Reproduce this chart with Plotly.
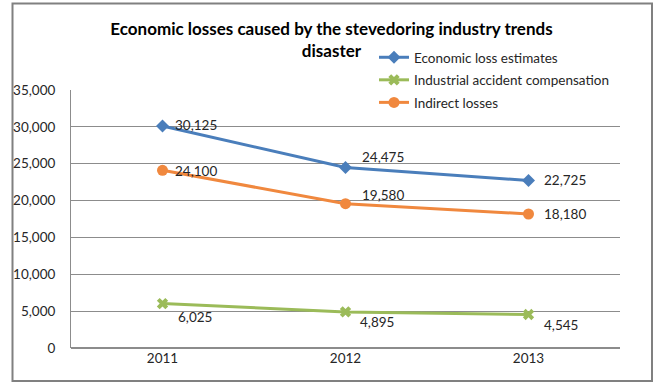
import plotly.graph_objects as go

years = [2011, 2012, 2013]
year_labels = ["2011", "2012", "2013"]
economic_loss = [30125, 24475, 22725]
industrial_comp = [6025, 4895, 4545]
indirect_losses = [24100, 19580, 18180]
series_names = ["Economic loss estimates", "Industrial accident compensation", "Indirect losses"]
y_ticks = [0, 5000, 10000, 15000, 20000, 25000, 30000, 35000]
title_text = "Economic losses caused by the stevedoring industry trends<br>disaster"

FONT = "Lato"
BLUE = "#4A7EBB"
GREEN = "#9BBB59"
ORANGE = "#F0883E"
TXT = "#262626"

W, H = 659, 384
L, R, T, B = 71, 39, 90, 36
pw, ph = W - L - R, H - T - B

def fmt(v):
    return f"{v:,}"

LBL = dict(family=FONT, size=13.5, color=TXT)

series = [
    dict(name=series_names[0], values=economic_loss, color=BLUE, symbol="diamond", size=10,
         shifts=[(10, 1), (14, 11), (13, 0)]),
    dict(name=series_names[1], values=industrial_comp, color=GREEN, symbol="x", size=10,
         shifts=[(13, -13), (12, -10), (13, -10)]),
    dict(name=series_names[2], values=indirect_losses, color=ORANGE, symbol="circle", size=11,
         shifts=[(10, -1), (14, 9), (13, 0)]),
]

fig = go.Figure()
annotations = []
for i, s in enumerate(series):
    fig.add_trace(go.Scatter(
        x=years, y=s["values"], name=s["name"], legendgroup=str(i),
        mode="lines+markers",
        line=dict(color=s["color"], width=3),
        marker=dict(symbol=s["symbol"], size=s["size"], color=s["color"]),
    ))
    for yr, v, (dx, dy) in zip(years, s["values"], s["shifts"]):
        annotations.append(dict(x=yr, y=v, xref="x", yref="y", text=fmt(v), showarrow=False,
                                xanchor="left", yanchor="middle", xshift=dx, yshift=dy,
                                font=dict(LBL)))

def px_x(p):
    return (p - L) / pw

def px_y(p):
    return (H - B - p) / ph

fig.update_layout(
    width=W, height=H,
    margin=dict(l=L, r=R, t=T, b=B),
    paper_bgcolor="white", plot_bgcolor="white",
    font=dict(family=FONT, size=13.5, color=TXT),
    title=dict(text=title_text, x=0.503, xanchor="center", y=1 - 34.5 / H, yanchor="top",
               font=dict(family=FONT, size=17, color="#000000", weight="bold")),
    showlegend=True,
    legend=dict(x=px_x(374), y=px_y(42), xanchor="left", yanchor="top",
                bgcolor="rgba(0,0,0,0)", font=dict(family=FONT, size=13.5, color=TXT),
                traceorder="grouped", tracegroupgap=2),
    annotations=annotations,
    xaxis=dict(range=[years[0] - 0.5, years[-1] + 0.5], tickvals=years, ticktext=year_labels,
               showgrid=False, zeroline=False, showline=False, ticks="",
               tickfont=dict(family=FONT, size=13.5, color=TXT)),
    yaxis=dict(range=[0, 35000], tickvals=y_ticks, tickformat=",", showgrid=True,
               gridcolor="#8C8C8C", gridwidth=1, zeroline=True, zerolinecolor="#8C8C8C",
               showline=True, linecolor="#8C8C8C", linewidth=1, ticks="",
               ticklabelstandoff=12, tickfont=dict(family=FONT, size=13.5, color=TXT)),
    shapes=[dict(type="rect", xref="paper", yref="paper",
                 x0=px_x(12.5), x1=px_x(652), y0=px_y(381), y1=px_y(3.5),
                 line=dict(color="#808080", width=2), fillcolor="rgba(0,0,0,0)", layer="below")],
)

fig.write_html("out.html")
